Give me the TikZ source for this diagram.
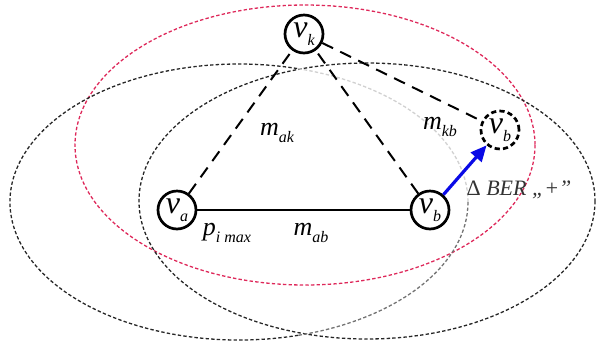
\documentclass[tikz,border=0pt]{standalone}
\usepackage{fontspec}
\setmainfont{Liberation Serif}
\usetikzlibrary{arrows.meta}
\definecolor{ringred}{RGB}{222,40,90}
\definecolor{arrblue}{RGB}{10,10,230}
\newcommand{\lowsub}[1]{\raisebox{-0.55ex}{\fontsize{8}{8}\selectfont\itshape #1}}

\begin{document}
\begin{tikzpicture}[x=0.5pt, y=-0.5pt,
  vert/.style={draw, circle, line width=1.35pt, minimum size=19pt,
               inner sep=0pt, fill=white,
               font=\fontsize{16}{16}\selectfont\itshape},
  ghost/.style={vert, dash pattern=on 2.6pt off 1.6pt},
  reach/.style={dash pattern=on 1.7pt off 1.1pt, line width=0.65pt},
  hop/.style={dash pattern=on 6pt off 4pt, line width=1pt},
  lbl/.style={font=\fontsize{13}{13}\selectfont\itshape, inner sep=0pt},
  arr/.style={-{Triangle[length=8pt, width=7pt]}, line width=1.6pt, arrblue},
  ]
  \useasboundingbox (0,0) rectangle (596,344);

  \draw[reach, ringred] (305,145) ellipse [x radius=230, y radius=140];
  \draw[reach, black!85] (367,201) ellipse [x radius=228, y radius=138];
  \draw[reach, black!85] (239,202) ++(75:229 and 138)
    arc [start angle=75, end angle=285, x radius=229, y radius=138];
  \draw[reach, black!55] (239,202) ++(0:229 and 138)
    arc [start angle=0, end angle=75, x radius=229, y radius=138];
  \draw[reach, black!18] (239,202) ++(-75:229 and 138)
    arc [start angle=-75, end angle=0, x radius=229, y radius=138];

  \node[vert] (vk) at (304,34) {v\lowsub{k}};
  \node[vert] (va) at (177,210) {v\lowsub{a}};
  \node[vert] (vb) at (430,210) {v\lowsub{b}};
  \node[ghost] (vbn) at (500,130) {v\lowsub{b}};

  \draw[line width=0.75pt] (va) -- (vb);
  \draw[hop] (va) -- (vk);
  \draw[hop] (vb) -- (vk);
  \draw[hop] (vk) -- (vbn);
  \draw[arr] (vb) -- (vbn);

  \node[lbl] (mak) at (277,133) {m\lowsub{ak}};
  \node[lbl] (mkb) at (440,127) {m\lowsub{kb}};
  \node[lbl] (mab) at (311,233) {m\lowsub{ab}};
  \node[lbl] (pmax) at (227,233) {p\lowsub{i max}};
  \node[font=\fontsize{11}{11}\selectfont, text=black!80, inner sep=0pt]
    (dber) at (519,190) {Δ \textit{BER „+”}};
\end{tikzpicture}
\end{document}
